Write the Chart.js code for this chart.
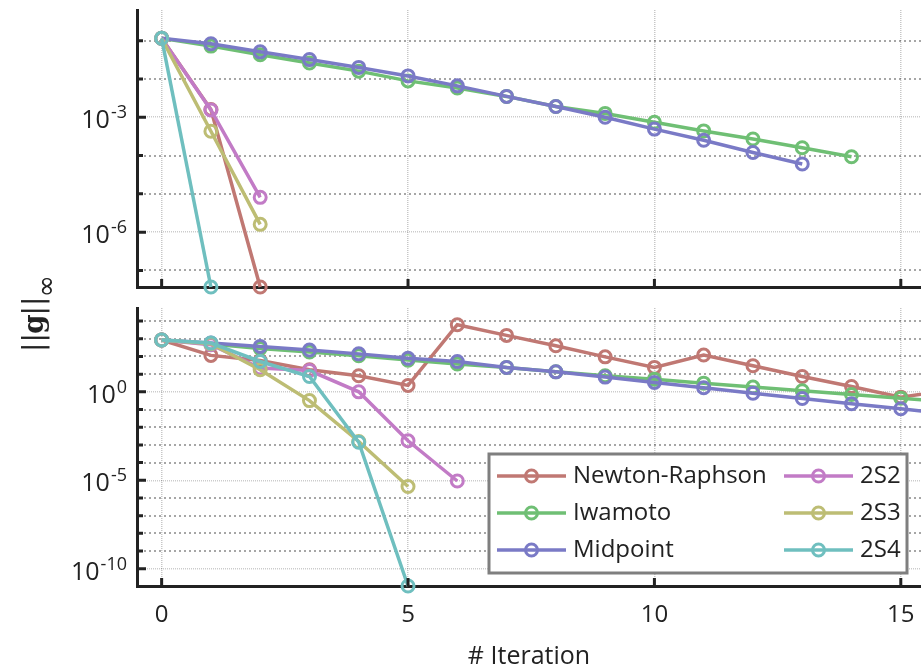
<!DOCTYPE html>
<html>
<head>
<meta charset="utf-8">
<script src="https://cdn.jsdelivr.net/npm/chart.js@4"></script>
<style>
  html, body { margin: 0; padding: 0; background: #fff; }
  #wrap { position: relative; width: 921px; height: 668px; }
  #wrap canvas { position: absolute; left: 0; top: 0; }
</style>
</head>
<body>
<div id="wrap">
  <canvas id="topPanel" width="921" height="668"></canvas>
  <canvas id="bottomPanel" width="921" height="668"></canvas>
</div>
<script>
const iterations = [0, 1, 2, 3, 4, 5, 6, 7, 8, 9, 10, 11, 12, 13, 14, 15, 16]
const seriesLabels = ['Newton-Raphson', 'Iwamoto', 'Midpoint', '2S2', '2S3', '2S4']
const seriesColors = ['#c07873', '#6fbf74', '#7a7ac6', '#c27bc6', '#bdbd74', '#6fbfbf']

// upper panel
const topNewton = [1.15e-1, 1.6e-3, 3.7e-8]
const topIwamoto = [1.15e-1, 7.2e-2, 4.3e-2, 2.6e-2, 1.6e-2, 8.9e-3, 5.8e-3, 3.5e-3, 1.9e-3, 1.26e-3, 7.4e-4, 4.4e-4, 2.7e-4, 1.6e-4, 9.3e-5]
const topMidpoint = [1.15e-1, 8.3e-2, 5.1e-2, 3.2e-2, 2.0e-2, 1.2e-2, 6.6e-3, 3.5e-3, 1.9e-3, 1.0e-3, 4.9e-4, 2.5e-4, 1.2e-4, 6.0e-5]
const top2S2 = [1.15e-1, 1.55e-3, 8.1e-6]
const top2S3 = [1.15e-1, 4.3e-4, 1.6e-6]
const top2S4 = [1.15e-1, 3.7e-8]

// lower panel
const bottomNewton = [850, 115, 59, 17.8, 8.1, 2.3, 6200, 1550, 400, 95, 24, 120, 30, 7.4, 2.0, 0.5, 1.3]
const bottomIwamoto = [850, 500, 280, 178, 110, 62, 38, 24, 13.5, 8.1, 5.2, 3.1, 1.86, 1.15, 0.71, 0.44, 0.27]
const bottomMidpoint = [850, 575, 370, 230, 140, 78, 52, 24, 13.5, 6.8, 3.4, 1.7, 0.83, 0.42, 0.21, 0.11, 0.055]
const bottom2S2 = [850, 460, 22, 16, 1.0, 1.7e-3, 9.1e-6]
const bottom2S3 = [850, 525, 17.8, 0.32, 1.55e-3, 4.4e-6]
const bottom2S4 = [850, 575, 52, 7.4, 1.4e-3, 1.05e-11]

const xTickValues = [0, 5, 10, 15]
const topTickExps = [-7, -6, -5, -4, -3, -2, -1]
const topLabelExps = [-6, -3]
const bottomTickExps = [-10, -9, -8, -7, -6, -5, -4, -3, -2, -1, 0, 1, 2, 3, 4]
const bottomLabelExps = [-10, -5, 0]

const FONT = '"Open Sans", sans-serif'
const INK = '#222'

function makeDatasets(list) {
  return list.map((vals, i) => ({
    label: seriesLabels[i],
    data: vals.map((y, k) => ({ x: iterations[k], y })),
    borderColor: seriesColors[i],
    backgroundColor: 'transparent',
    borderWidth: 3.5,
    pointRadius: 6,
    pointHoverRadius: 6,
    pointBorderWidth: 3,
    pointBackgroundColor: 'transparent',
    pointBorderColor: seriesColors[i],
    order: list.length - i,
    clip: false,
  }))
}

const expOf = (v) => Math.round(Math.log10(v))

// inward tick marks + 10^n labels
const axisDecor = {
  id: 'axisDecor',
  afterDraw(chart, args, opts) {
    const { ctx, chartArea: a, scales: { x, y } } = chart
    ctx.save()
    ctx.strokeStyle = INK
    ctx.lineWidth = 3
    ctx.beginPath()
    y.ticks.forEach((t) => {
      const p = y.getPixelForValue(t.value)
      const len = opts.labelExps.includes(expOf(t.value)) ? 9 : 6
      ctx.moveTo(a.left, p)
      ctx.lineTo(a.left + len, p)
    })
    x.ticks.forEach((t) => {
      const p = x.getPixelForValue(t.value)
      ctx.moveTo(p, a.bottom)
      ctx.lineTo(p, a.bottom - 8)
    })
    ctx.stroke()

    ctx.fillStyle = INK
    ctx.textBaseline = 'alphabetic'
    opts.labelExps.forEach((e) => {
      const p = y.getPixelForValue(Math.pow(10, e))
      const sup = String(e)
      ctx.font = '25px ' + FONT
      const wBase = ctx.measureText('10').width
      ctx.font = '18px ' + FONT
      const wSup = ctx.measureText(sup).width
      const x0 = a.left - 11 - wSup - wBase
      ctx.font = '25px ' + FONT
      ctx.fillText('10', x0, p + 11)
      ctx.font = '18px ' + FONT
      ctx.fillText(sup, x0 + wBase + 1, p + 1)
    })
    ctx.restore()
  },
}

const yTitle = {
  id: 'yTitle',
  afterDraw(chart) {
    const ctx = chart.ctx
    ctx.save()
    ctx.translate(43, 312)
    ctx.rotate(-Math.PI / 2)
    ctx.fillStyle = INK
    ctx.textBaseline = 'alphabetic'
    const parts = [
      { t: '||', f: '28px "DejaVu Sans"', dy: 0 },
      { t: 'g', f: 'bold 28px "DejaVu Serif"', dy: 0 },
      { t: '||', f: '28px "DejaVu Sans"', dy: 0 },
      { t: '\u221e', f: '27px "DejaVu Sans"', dy: 12 },
    ]
    let total = 0
    parts.forEach((p) => {
      ctx.font = p.f
      p.w = ctx.measureText(p.t).width
      total += p.w
    })
    let pos = -total / 2
    parts.forEach((p) => {
      ctx.font = p.f
      ctx.fillText(p.t, pos, p.dy)
      pos += p.w - 1
    })
    ctx.restore()
  },
}

const boxLegend = {
  id: 'boxLegend',
  afterDraw(chart) {
    const { ctx, chartArea: a } = chart
    const right = a.right - 14
    const bottom = a.bottom - 13
    const left = right - 418
    const top = bottom - 119
    ctx.save()
    ctx.fillStyle = '#fff'
    ctx.fillRect(left, top, right - left, bottom - top)
    ctx.strokeStyle = '#7f7f7f'
    ctx.lineWidth = 3
    ctx.strokeRect(left, top, right - left, bottom - top)
    ctx.font = '24px ' + FONT
    ctx.textBaseline = 'middle'
    chart.data.datasets.forEach((ds, i) => {
      const col = Math.floor(i / 3)
      const row = i % 3
      const lx = left + (col === 0 ? 8 : 295)
      const ly = top + 22 + row * 37
      ctx.strokeStyle = ds.borderColor
      ctx.lineWidth = 3.5
      ctx.beginPath()
      ctx.moveTo(lx, ly)
      ctx.lineTo(lx + 69, ly)
      ctx.stroke()
      ctx.lineWidth = 3
      ctx.beginPath()
      ctx.arc(lx + 34.5, ly, 6, 0, Math.PI * 2)
      ctx.stroke()
      ctx.fillStyle = INK
      ctx.fillText(ds.label, lx + 76, ly)
    })
    ctx.restore()
  },
}

function panelOptions(tickExps, labelExps, yMin, yMax, padTop, xHeight, showX) {
  const major = (c) => c.tick && labelExps.includes(expOf(c.tick.value))
  return {
    responsive: false,
    animation: false,
    layout: { autoPadding: false, padding: { top: padTop, left: 0, right: 0, bottom: 0 } },
    plugins: {
      legend: { display: false },
      tooltip: { enabled: false },
      axisDecor: { labelExps },
    },
    scales: {
      x: {
        type: 'linear',
        min: -0.5,
        max: 15.41,
        afterBuildTicks: (s) => { s.ticks = xTickValues.map((v) => ({ value: v })) },
        afterFit: (s) => {
          s.height = xHeight
          s.paddingLeft = 0
          s.paddingRight = 0
        },
        grid: { color: 'rgba(0,0,0,0.22)', lineWidth: 1.5, drawTicks: false },
        border: { color: INK, width: 3, dash: [1, 1] },
        ticks: { display: showX, color: INK, font: { family: FONT, size: 24 }, padding: 15, maxRotation: 0 },
        title: { display: showX, text: '# Iteration', color: INK, font: { family: FONT, size: 25 }, padding: { top: 0, bottom: -4 } },
      },
      y: {
        type: 'logarithmic',
        min: yMin,
        max: yMax,
        afterBuildTicks: (s) => { s.ticks = tickExps.map((e) => ({ value: Math.pow(10, e) })) },
        afterFit: (s) => {
          s.width = 137
          s.paddingTop = 0
          s.paddingBottom = 0
        },
        grid: {
          color: (c) => (major(c) ? 'rgba(0,0,0,0.2)' : 'rgba(0,0,0,0.35)'),
          lineWidth: (c) => (major(c) ? 1.5 : 2),
          drawTicks: false,
        },
        border: { color: INK, width: 3, dash: (c) => (major(c) ? [1, 1] : [2, 3]) },
        ticks: { display: false },
      },
    },
  }
}

new Chart(document.getElementById('topPanel'), {
  type: 'line',
  data: { datasets: makeDatasets([topNewton, topIwamoto, topMidpoint, top2S2, top2S3, top2S4]) },
  options: panelOptions(topTickExps, topLabelExps, 3.7e-8, Math.pow(10, -0.2), 10, 668 - 287, false),
  plugins: [axisDecor, yTitle],
})

new Chart(document.getElementById('bottomPanel'), {
  type: 'line',
  data: { datasets: makeDatasets([bottomNewton, bottomIwamoto, bottomMidpoint, bottom2S2, bottom2S3, bottom2S4]) },
  options: panelOptions(bottomTickExps, bottomLabelExps, 1.05e-11, Math.pow(10, 4.74), 308, 668 - 586, true),
  plugins: [axisDecor, boxLegend],
})
</script>
</body>
</html>
